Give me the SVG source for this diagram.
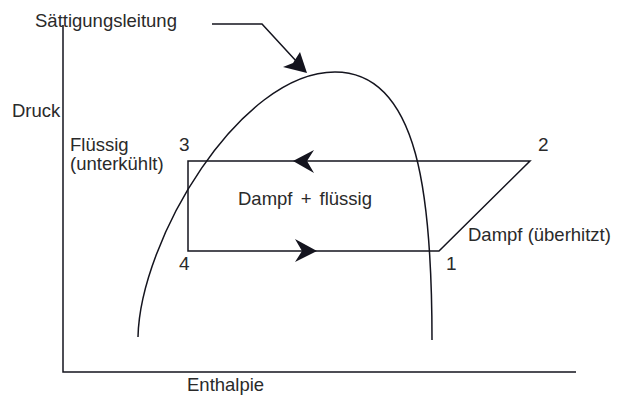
<svg xmlns="http://www.w3.org/2000/svg" width="624" height="396" viewBox="0 0 624 396">
<style>
.ln{fill:none;stroke:#14141e;stroke-width:1.5}
.ah{fill:#14141e;stroke:none}
text{font-family:"Liberation Sans",Arial,sans-serif;font-size:18.5px;fill:#2a2a2a}
.num{font-size:19px}
</style>
<rect width="624" height="396" fill="#fff"/>
<g id="axes">
<path class="ln" d="M63,25 V372 H576"/>
</g>
<g id="saturation-curve">
<path class="ln" d="M138,337 C140,240 240,72 335,72 C420,72 432,200 432,340"/>
</g>
<g id="cycle">
<path class="ln" d="M188,161 H530 L439,251 H188 Z"/>
<polygon class="ah" points="293,161 314,150 307,161 314,173"/>
<polygon class="ah" points="317,251 295,239 302,251 295,262"/>
</g>
<g id="connectors">
<path class="ln" d="M212,24 H262 L297,62"/>
<polygon class="ah" points="307,73 283,67 293,63 300,52"/>
</g>
<g id="labels">
<text x="35" y="27">Sättigungsleitung</text>
<text x="12" y="117">Druck</text>
<text x="70" y="151">Flüssig</text>
<text x="70" y="170">(unterkühlt)</text>
<text class="num" x="179" y="151">3</text>
<text class="num" x="179" y="270">4</text>
<text class="num" x="538" y="151">2</text>
<text class="num" x="446" y="270">1</text>
<text x="238" y="205" word-spacing="3">Dampf + flüssig</text>
<text x="468" y="241">Dampf (überhitzt)</text>
<text x="187" y="391">Enthalpie</text>
</g>
</svg>
